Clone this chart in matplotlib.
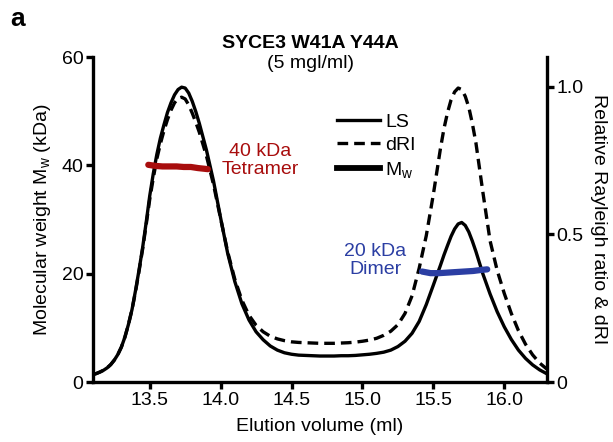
import matplotlib
matplotlib.use("Agg")
import matplotlib.pyplot as plt
from matplotlib.lines import Line2D

plt.rcParams['font.family'] = ['Liberation Sans', 'DejaVu Sans']
plt.rcParams['mathtext.fontset'] = 'custom'
plt.rcParams['mathtext.rm'] = 'Liberation Sans'
plt.rcParams['mathtext.it'] = 'Liberation Sans:italic'

# ---- data ----
volume = [13.10, 13.125, 13.15, 13.175, 13.20, 13.225, 13.25, 13.275, 13.30, 13.325,
          13.35, 13.375, 13.40, 13.425, 13.45,
          13.475, 13.50, 13.525, 13.55, 13.575, 13.60, 13.625, 13.65, 13.675, 13.70,
          13.725, 13.75, 13.775, 13.80, 13.825, 13.85, 13.90, 13.95, 14.00, 14.05,
          14.10, 14.15, 14.20, 14.25, 14.30, 14.35, 14.40, 14.45, 14.50, 14.55,
          14.60, 14.65, 14.70, 14.75, 14.80, 14.85, 14.90, 14.95, 15.00, 15.05,
          15.10, 15.15, 15.20, 15.25, 15.30, 15.35, 15.40, 15.45, 15.50, 15.55,
          15.575, 15.60, 15.625, 15.65, 15.675, 15.70, 15.725, 15.75, 15.775, 15.80,
          15.85, 15.90, 15.95, 16.00, 16.05, 16.10, 16.15, 16.20, 16.25, 16.30]
ls_signal = [0.025, 0.029, 0.034, 0.040, 0.048, 0.059, 0.074, 0.093, 0.118, 0.152,
             0.195, 0.245, 0.310, 0.380, 0.455,
             0.540, 0.630, 0.705, 0.770, 0.825, 0.870, 0.912, 0.945, 0.972, 0.990,
             0.998, 0.995, 0.978, 0.950, 0.915, 0.875, 0.785, 0.680, 0.555, 0.435,
             0.340, 0.265, 0.210, 0.170, 0.143, 0.122, 0.108, 0.099, 0.094, 0.091,
             0.090, 0.089, 0.088, 0.088, 0.088, 0.089, 0.089, 0.090, 0.092, 0.094,
             0.097, 0.101, 0.108, 0.120, 0.138, 0.165, 0.205, 0.262, 0.328, 0.395,
             0.430, 0.462, 0.493, 0.518, 0.535, 0.540, 0.530, 0.508, 0.477, 0.442,
             0.365, 0.298, 0.238, 0.187, 0.144, 0.108, 0.080, 0.058, 0.041, 0.028]
dri_signal = [0.025, 0.029, 0.034, 0.040, 0.048, 0.059, 0.074, 0.093, 0.118, 0.152,
              0.195, 0.245, 0.306, 0.376, 0.450,
              0.532, 0.618, 0.690, 0.755, 0.806, 0.850, 0.888, 0.920, 0.945, 0.960,
              0.964, 0.958, 0.938, 0.910, 0.879, 0.845, 0.765, 0.668, 0.553, 0.440,
              0.348, 0.277, 0.226, 0.192, 0.170, 0.155, 0.146, 0.140, 0.136, 0.134,
              0.133, 0.132, 0.131, 0.131, 0.131, 0.132, 0.133, 0.135, 0.138, 0.142,
              0.148, 0.158, 0.172, 0.194, 0.232, 0.292, 0.385, 0.495, 0.635, 0.790,
              0.858, 0.912, 0.955, 0.982, 0.995, 0.990, 0.967, 0.930, 0.875, 0.810,
              0.640, 0.478, 0.378, 0.300, 0.232, 0.174, 0.128, 0.092, 0.064, 0.044]

tetramer_vol = [13.49, 13.54, 13.59, 13.64, 13.69, 13.74, 13.79, 13.84, 13.91]
tetramer_mw = [40.1, 39.9, 39.8, 39.8, 39.8, 39.7, 39.7, 39.5, 39.3]
dimer_vol = [15.42, 15.48, 15.54, 15.60, 15.66, 15.72, 15.78, 15.84, 15.88]
dimer_mw = [20.4, 20.1, 20.1, 20.2, 20.3, 20.4, 20.5, 20.7, 20.8]

x_ticks = [13.5, 14.0, 14.5, 15.0, 15.5, 16.0]
x_tick_labels = ['13.5', '14.0', '14.5', '15.0', '15.5', '16.0']
left_ticks = [0, 20, 40, 60]
right_ticks = [0, 0.5, 1.0]
right_tick_labels = ['0', '0.5', '1.0']

RED = '#a80d0d'
BLUE = '#2b3ea3'
FS = 14
LW = 2.4

fig = plt.figure(figsize=(6.13, 4.42), dpi=100)
ax = fig.add_axes([0.1517, 0.1357, 0.7403, 0.7353])
ax2 = ax.twinx()

ax.set_zorder(ax2.get_zorder() + 1)
ax.patch.set_visible(False)

ls_line, = ax2.plot(volume, ls_signal, color='black', lw=LW, solid_joinstyle='round')
dri_line, = ax2.plot(volume, dri_signal, color='black', lw=LW, dashes=(3.2, 1.8))

ax.plot(tetramer_vol, tetramer_mw, color=RED, lw=4.5, solid_capstyle='round')
ax.plot(dimer_vol, dimer_mw, color=BLUE, lw=4.5, solid_capstyle='round')

ax.set_xlim(13.1, 16.3)
ax.set_ylim(0, 60)
ax2.set_ylim(0, 1.1)

ax.set_xticks(x_ticks)
ax.set_xticklabels(x_tick_labels)
ax.set_yticks(left_ticks)
ax2.set_yticks(right_ticks)
ax2.set_yticklabels(right_tick_labels)

for a in (ax, ax2):
    a.spines['top'].set_visible(False)
    for s in ('left', 'right', 'bottom'):
        a.spines[s].set_linewidth(LW)
    a.tick_params(width=LW, length=5, labelsize=FS, pad=2)
ax.spines['right'].set_visible(False)
ax2.spines['left'].set_visible(False)
ax2.spines['bottom'].set_visible(False)

ax.set_xlabel('Elution volume (ml)', fontsize=FS, labelpad=7)
ax.set_ylabel('Molecular weight M$_\\mathregular{w}$ (kDa)', fontsize=FS, labelpad=6)
ax2.set_ylabel('Relative Rayleigh ratio & dRI', fontsize=FS, rotation=270, labelpad=17)

ax.text(14.28, 40.9, '40 kDa\nTetramer', color=RED, fontsize=FS, ha='center',
        va='center', linespacing=1.05)
ax.text(15.09, 22.4, '20 kDa\nDimer', color=BLUE, fontsize=FS, ha='center',
        va='center', linespacing=1.05)

fig.text(0.506, 0.902, 'SYCE3 W41A Y44A', fontsize=FS, fontweight='bold',
         ha='center', va='center')
fig.text(0.506, 0.857, '(5 mgl/ml)', fontsize=FS, ha='center', va='center')
fig.text(0.016, 0.958, 'a', fontsize=19, fontweight='bold', ha='left', va='center')

mw_handle = Line2D([], [], color='black', lw=4.2)
ax.legend([ls_line, dri_line, mw_handle], ['LS', 'dRI', 'M$_\\mathregular{w}$'],
          loc='upper left', bbox_to_anchor=(0.52, 0.85), frameon=False,
          fontsize=FS, handlelength=2.2, handletextpad=0.3, labelspacing=0.28,
          borderaxespad=0)

fig.savefig('out.png', dpi=100)
